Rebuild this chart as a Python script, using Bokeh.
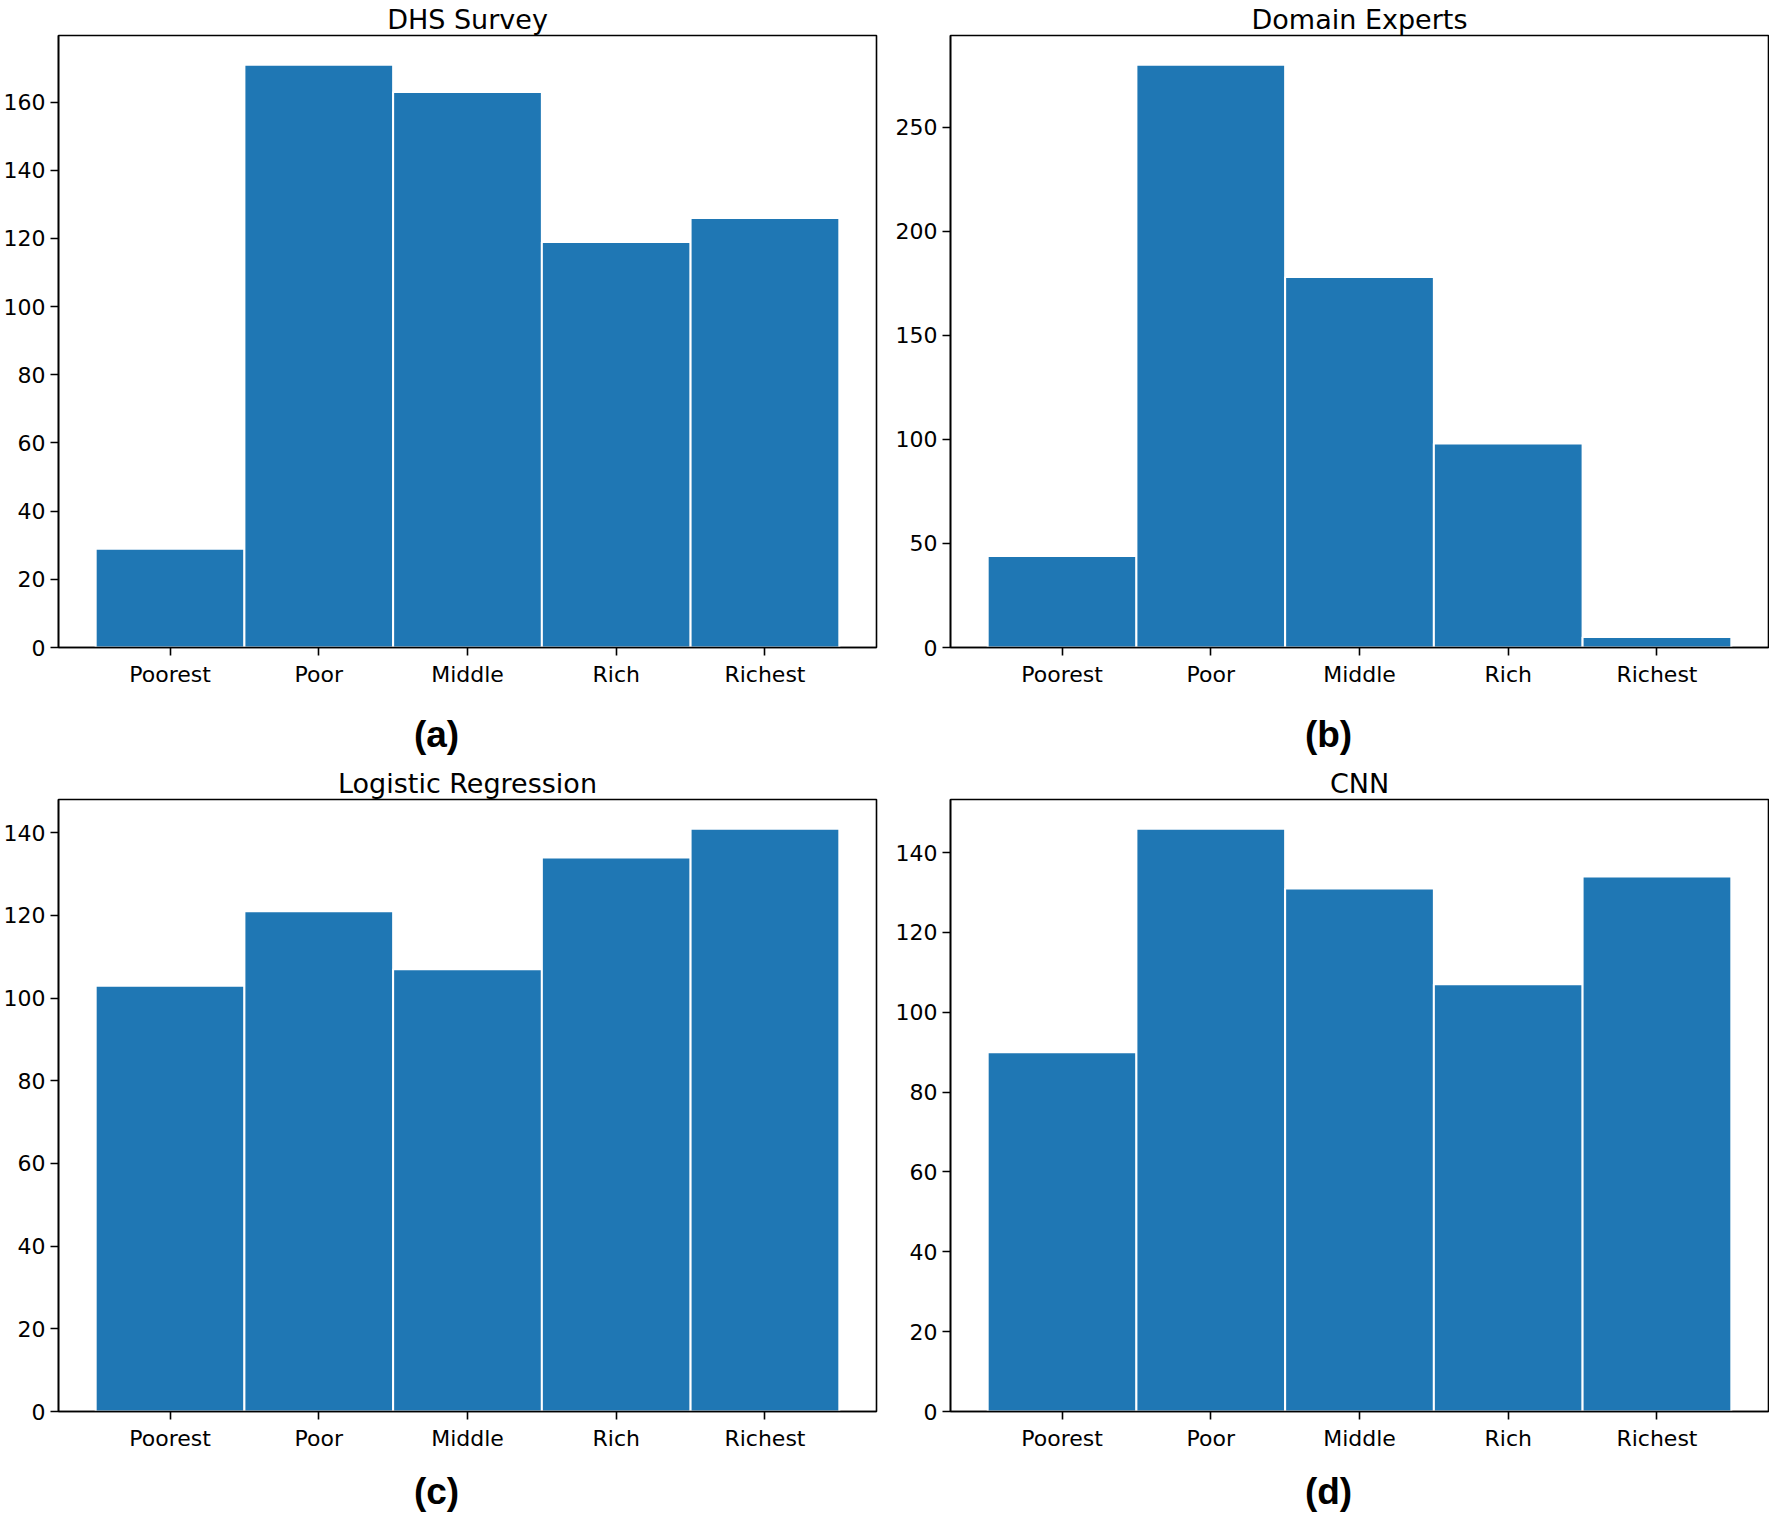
from bokeh.plotting import figure
from bokeh.layouts import column, row
from bokeh.models import Range1d, SingleIntervalTicker, FixedTicker
from bokeh.core.properties import value
from bokeh.embed import file_html
from bokeh.resources import INLINE

# ---- data ----
categories = ["Poorest", "Poor", "Middle", "Rich", "Richest"]
dhs_survey = [29, 171, 163, 119, 126]
domain_experts = [44, 280, 178, 98, 5]
logistic_regression = [103, 121, 107, 134, 141]
cnn = [90, 146, 131, 107, 134]

titles = ["DHS Survey", "Domain Experts", "Logistic Regression", "CNN"]
panel_tags = ["(a)", "(b)", "(c)", "(d)"]
tick_steps = [20, 50, 20, 20]

# ---- layout constants ----
FRAME_W = 818
FRAME_H = 612
TOP = 25
BOTTOM = 55
LEFT = 58
RIGHT_A = 16
RIGHT_B = 1
BAR_COLOR = "#1f77b4"
FONT = "DejaVu Sans"


def make_panel(title, values, step, right):
    n = len(categories)
    ymax = max(values) * 1.05
    xs = list(range(n))
    p = figure(frame_width=FRAME_W, frame_height=FRAME_H,
               x_range=Range1d(-0.75, n - 0.25), y_range=Range1d(0, ymax),
               output_backend="svg", toolbar_location=None,
               min_border_left=LEFT, min_border_right=right,
               min_border_top=TOP, min_border_bottom=BOTTOM,
               background_fill_color="white", border_fill_color="white",
               outline_line_color="black", outline_line_width=1.6)
    p.vbar(x=xs, top=values, bottom=0, width=1.0,
           fill_color=BAR_COLOR, line_color="white", line_width=2)
    p.grid.visible = False

    p.title.text = title
    p.title.align = "center"
    p.title.text_font = FONT
    p.title.text_font_size = "27px"
    p.title.text_font_style = "normal"
    p.title.text_color = "black"
    p.title.standoff = 2

    p.xaxis.ticker = FixedTicker(ticks=xs)
    p.xaxis.major_label_overrides = {i: c for i, c in enumerate(categories)}
    p.yaxis.ticker = SingleIntervalTicker(interval=step, num_minor_ticks=0)
    for ax in (p.xaxis[0], p.yaxis[0]):
        ax.axis_line_color = "black"
        ax.axis_line_width = 1.6
        ax.major_tick_line_color = "black"
        ax.major_tick_line_width = 1.6
        ax.major_tick_out = 8
        ax.major_tick_in = 0
        ax.minor_tick_out = 0
        ax.minor_tick_in = 0
        ax.major_label_text_font = FONT
        ax.major_label_text_font_size = "22px"
        ax.major_label_text_color = "black"
    p.xaxis.major_label_standoff = 6
    p.yaxis.major_label_standoff = 5
    return p


def make_tag(tag, right, height, center_from_top):
    width = LEFT + FRAME_W + right
    t = figure(width=width, height=height,
               x_range=Range1d(0, width), y_range=Range1d(0, height),
               output_backend="svg", toolbar_location=None,
               x_axis_type=None, y_axis_type=None,
               min_border=0, outline_line_color=None,
               background_fill_color="white", border_fill_color="white")
    t.grid.visible = False
    t.text(x=[LEFT + FRAME_W / 2 - 31], y=[height - center_from_top], text=[tag],
           text_font=value("Liberation Sans"), text_font_style="bold",
           text_font_size="37px", text_align="center",
           text_baseline="middle", text_color="black")
    return t


pa = make_panel(titles[0], dhs_survey, tick_steps[0], RIGHT_A)
pb = make_panel(titles[1], domain_experts, tick_steps[1], RIGHT_B)
pc = make_panel(titles[2], logistic_regression, tick_steps[2], RIGHT_A)
pd_ = make_panel(titles[3], cnn, tick_steps[3], RIGHT_B)

ta = make_tag(panel_tags[0], RIGHT_A, 62, 32)
tb = make_tag(panel_tags[1], RIGHT_B, 62, 32)
tc = make_tag(panel_tags[2], RIGHT_A, 50, 25)
td = make_tag(panel_tags[3], RIGHT_B, 50, 25)

layout = column(row(pa, pb), row(ta, tb), row(pc, pd_), row(tc, td))

open("out.html", "w").write(file_html(layout, INLINE))
